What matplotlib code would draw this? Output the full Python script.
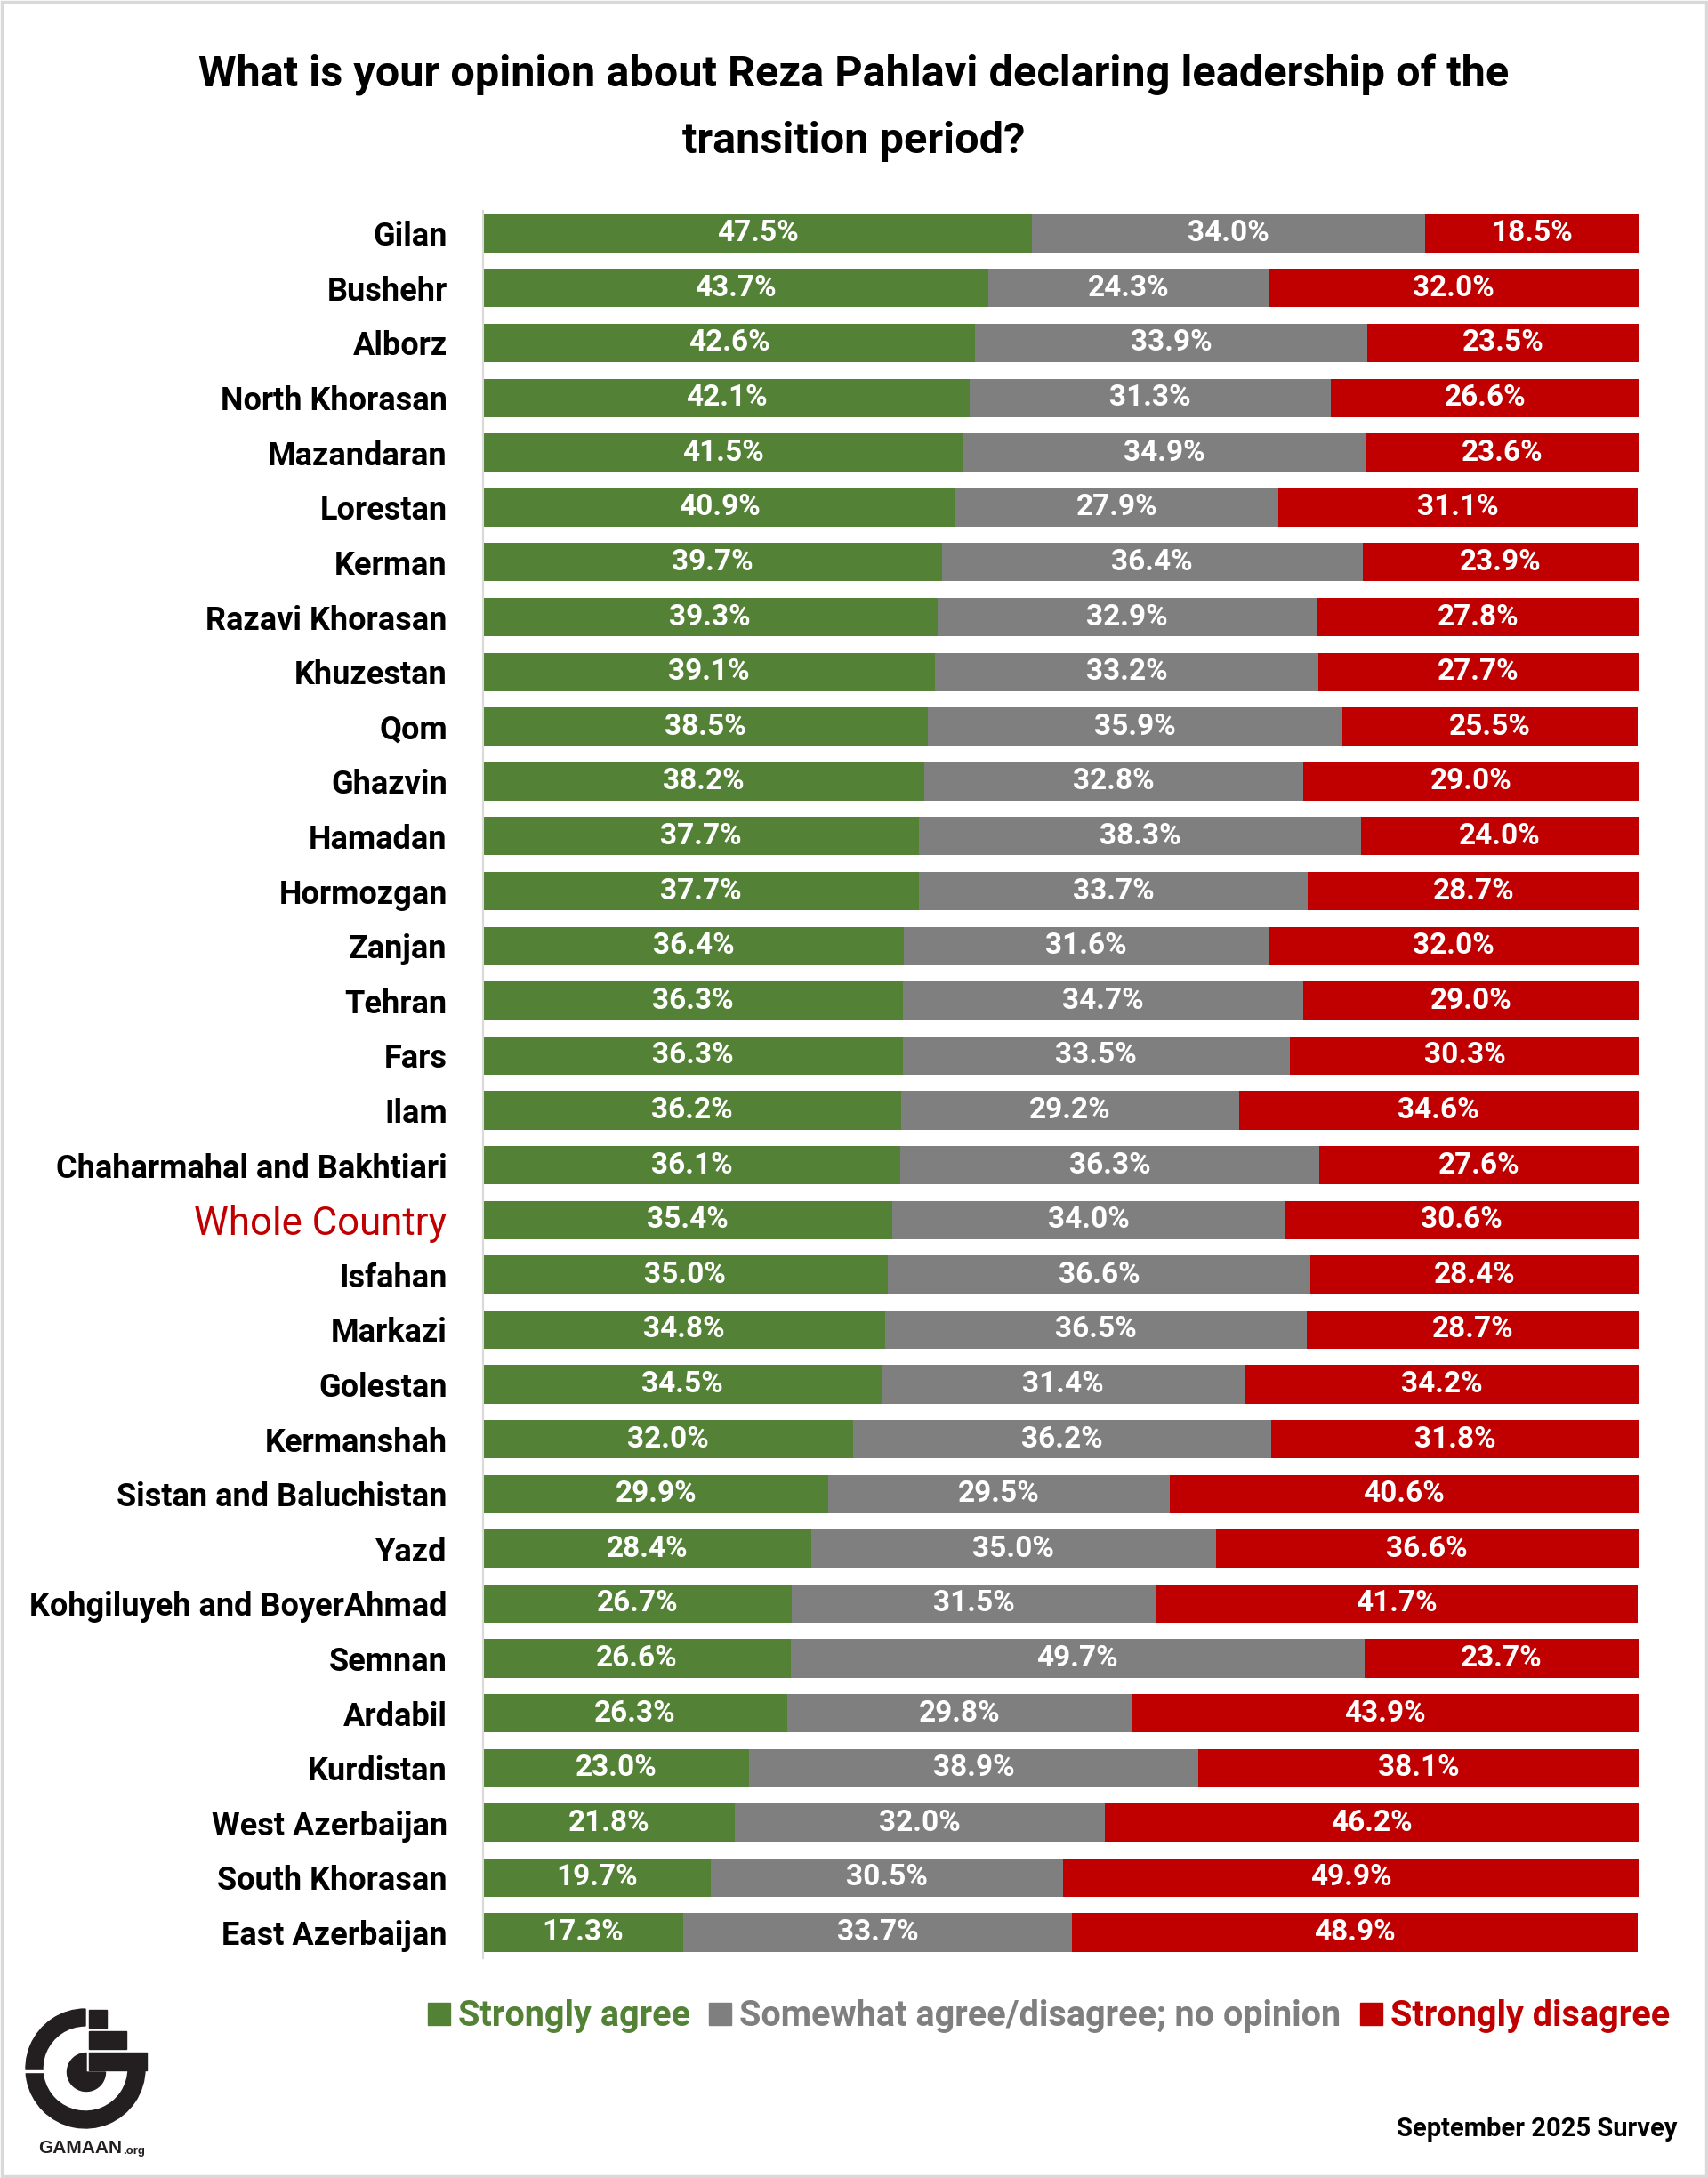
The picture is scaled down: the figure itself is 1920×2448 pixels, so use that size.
import matplotlib
matplotlib.use('Agg')
import matplotlib.pyplot as plt
from matplotlib.patches import Wedge, Rectangle
from matplotlib.lines import Line2D

plt.rcParams['font.family'] = ['Roboto', 'DejaVu Sans']

provinces = ['Gilan', 'Bushehr', 'Alborz', 'North Khorasan', 'Mazandaran', 'Lorestan',
             'Kerman', 'Razavi Khorasan', 'Khuzestan', 'Qom', 'Ghazvin', 'Hamadan',
             'Hormozgan', 'Zanjan', 'Tehran', 'Fars', 'Ilam', 'Chaharmahal and Bakhtiari',
             'Whole Country', 'Isfahan', 'Markazi', 'Golestan', 'Kermanshah',
             'Sistan and Baluchistan', 'Yazd', 'Kohgiluyeh and BoyerAhmad', 'Semnan',
             'Ardabil', 'Kurdistan', 'West Azerbaijan', 'South Khorasan', 'East Azerbaijan']
strongly_agree = [47.5, 43.7, 42.6, 42.1, 41.5, 40.9, 39.7, 39.3, 39.1, 38.5, 38.2, 37.7,
                  37.7, 36.4, 36.3, 36.3, 36.2, 36.1, 35.4, 35.0, 34.8, 34.5, 32.0, 29.9,
                  28.4, 26.7, 26.6, 26.3, 23.0, 21.8, 19.7, 17.3]
somewhat = [34.0, 24.3, 33.9, 31.3, 34.9, 27.9, 36.4, 32.9, 33.2, 35.9, 32.8, 38.3,
            33.7, 31.6, 34.7, 33.5, 29.2, 36.3, 34.0, 36.6, 36.5, 31.4, 36.2, 29.5,
            35.0, 31.5, 49.7, 29.8, 38.9, 32.0, 30.5, 33.7]
strongly_disagree = [18.5, 32.0, 23.5, 26.6, 23.6, 31.1, 23.9, 27.8, 27.7, 25.5, 29.0, 24.0,
                     28.7, 32.0, 29.0, 30.3, 34.6, 27.6, 30.6, 28.4, 28.7, 34.2, 31.8, 40.6,
                     36.6, 41.7, 23.7, 43.9, 38.1, 46.2, 49.9, 48.9]
series_names = ['Strongly agree', 'Somewhat agree/disagree; no opinion', 'Strongly disagree']
colors = ['#538135', '#7F7F7F', '#C00000']

W, H = 1920, 2448
fig = plt.figure(figsize=(W / 100, H / 100), dpi=100)

# chart area
ax = fig.add_axes([543 / W, 1 - 2201 / H, (1842 - 543) / W, (2201 - 237) / H])
y = list(range(len(provinces)))
left = [0] * len(provinces)
for vals, col in zip([strongly_agree, somewhat, strongly_disagree], colors):
    bars = ax.barh(y, vals, left=left, height=0.7, color=col)
    for b, v in zip(bars, vals):
        ax.text(b.get_x() + b.get_width() / 2, b.get_y() + b.get_height() / 2, f'{v:.1f}%',
                ha='center', va='center', color='white', fontsize=24, fontweight='bold')
    left = [l + v for l, v in zip(left, vals)]

ax.set_xlim(0, 100)
ax.set_ylim(31.47, -0.41)
ax.set_yticks(y)
ax.set_yticklabels(provinces, fontsize=26, fontweight='bold')
ax.tick_params(axis='y', length=0, pad=29)
ax.set_xticks([])
for s in ['top', 'right', 'bottom']:
    ax.spines[s].set_visible(False)
ax.spines['left'].set_color('#D9D9D9')
ax.spines['left'].set_linewidth(1.5)
for lab in ax.get_yticklabels():
    if lab.get_text() == 'Whole Country':
        lab.set_color('#C00000')
        lab.set_fontweight('normal')
        lab.set_fontsize(31.5)

# title
fig.text(0.5, 1 - 84 / H, 'What is your opinion about Reza Pahlavi declaring leadership of the',
         ha='center', va='center', fontsize=35, fontweight='bold')
fig.text(0.5, 1 - 159 / H, 'transition period?', ha='center', va='center',
         fontsize=35, fontweight='bold')

# legend
handles = [Line2D([], [], marker='s', linestyle='none', markersize=18, color=c) for c in colors]
fig.legend(handles, series_names, loc='center', bbox_to_anchor=(1177 / W, 1 - 2266 / H),
           ncol=3, frameon=False, labelcolor=colors, handletextpad=0.15,
           columnspacing=0.45, handlelength=0.8,
           prop={'family': 'Roboto', 'weight': 'bold', 'size': 28.5})

fig.text(1886 / W, 1 - 2393 / H, 'September 2025 Survey', ha='right', va='center',
         fontsize=21, fontweight='bold')

# logo
lax = fig.add_axes([0, 1 - 2440 / H, 200 / W, 200 / H])
lax.set_xlim(0, 200)
lax.set_ylim(2440, 2240)
lax.set_aspect('equal')
lax.axis('off')
dark = '#231F20'
lax.add_patch(Wedge((96, 2325), 67, 0, 270, width=19, color=dark))
lax.add_patch(Rectangle((26, 2326.5), 24, 2.5, color='white'))
lax.add_patch(Wedge((97, 2329), 21.5, 0, 270, color=dark))
lax.add_patch(Rectangle((100, 2259), 20, 20, color=dark))
lax.add_patch(Rectangle((100, 2283), 42, 20, color=dark))
lax.add_patch(Rectangle((100, 2307), 65, 20, color=dark))
lax.text(43, 2415, 'GAMAAN', ha='left', va='center', fontsize=15, fontweight='bold',
         family=['Liberation Sans', 'DejaVu Sans'], color=dark)
lax.text(138, 2418, '.org', ha='left', va='center', fontsize=9.5, fontweight='bold',
         family=['Liberation Sans', 'DejaVu Sans'], color=dark)

# outer frame
fig.add_artist(Rectangle((0.001, 0.001), 0.998, 0.998, transform=fig.transFigure,
                         fill=False, edgecolor='#D9D9D9', linewidth=2.5))

fig.savefig('out.png', dpi=100, facecolor='white')
